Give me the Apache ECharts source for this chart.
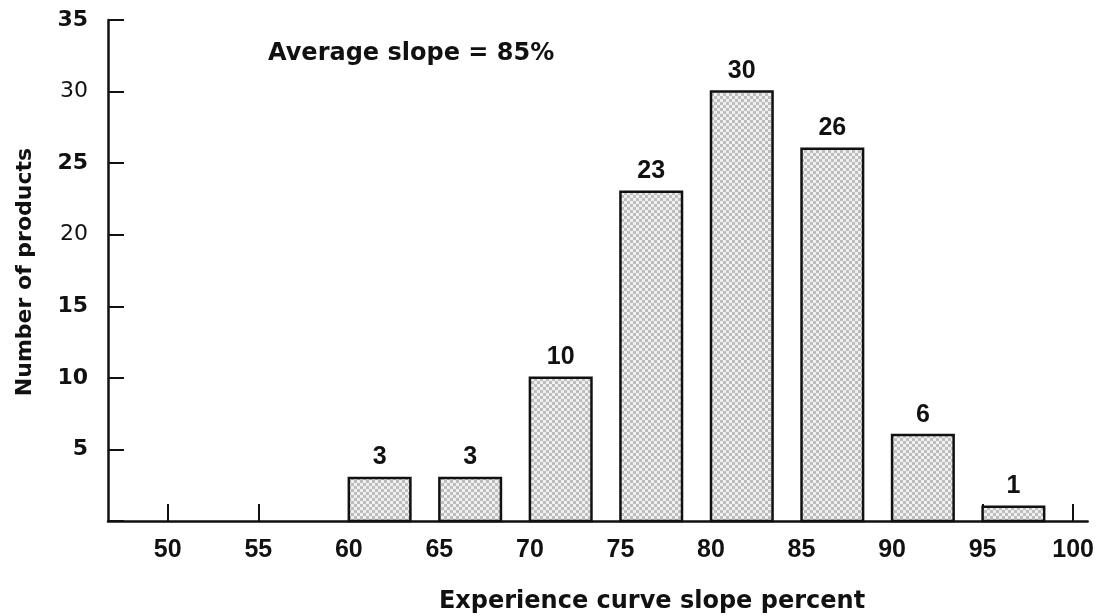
<!DOCTYPE html>
<html>
<head>
<meta charset="utf-8">
<script src="https://cdn.jsdelivr.net/npm/echarts@6/dist/echarts.min.js"></script>
<style>html,body{margin:0;padding:0;background:#fff;}#c{width:1097px;height:616px;}</style>
</head>
<body>
<div id="c"></div>
<script>
const binStarts = [50, 55, 60, 65, 70, 75, 80, 85, 90, 95];
const counts = [0, 0, 3, 3, 10, 23, 30, 26, 6, 1];
const xTickValues = [50, 55, 60, 65, 70, 75, 80, 85, 90, 95, 100];
const yTickMax = 35;
const yTickStep = 5;
const annotation = 'Average slope = 85%';
const xTitle = 'Experience curve slope percent';
const yTitle = 'Number of products';

const BIN_W = 3.4;
const SANS = '"Liberation Sans", Arial, sans-serif';
const WIDE = '"DejaVu Sans", sans-serif';
const INK = '#111';

// stipple pattern for bar fill (checker of 3px cells)
const pat = document.createElement('canvas');
pat.width = 6; pat.height = 6;
const pctx = pat.getContext('2d');
pctx.fillStyle = '#f0f0f0'; pctx.fillRect(0, 0, 6, 6);
pctx.fillStyle = '#bdbdbd'; pctx.fillRect(0, 0, 3, 3); pctx.fillRect(3, 3, 3, 3);

const chart = echarts.init(document.getElementById('c'), null, {renderer: 'canvas'});
const data = binStarts.map((b, i) => [b, counts[i]]);

chart.setOption({
  animation: false,
  backgroundColor: '#fff',
  grid: {left: 108, right: 0, top: 20, bottom: 95, containLabel: false},
  xAxis: {
    type: 'value',
    min: 46.7,
    max: 100.8,
    axisLine: {show: true, onZero: false, lineStyle: {color: INK, width: 2.5}},
    axisTick: {show: true, inside: true, length: 17, customValues: xTickValues, lineStyle: {color: INK, width: 2}},
    axisLabel: {customValues: xTickValues, margin: 17, color: INK, fontSize: 25, fontWeight: 'bold', fontFamily: SANS},
    splitLine: {show: false}
  },
  yAxis: {
    type: 'value',
    min: 0,
    max: yTickMax,
    interval: yTickStep,
    axisLine: {show: true, lineStyle: {color: INK, width: 2.5}},
    axisTick: {show: true, inside: true, length: 16, lineStyle: {color: INK, width: 2}},
    axisLabel: {
      margin: 20, color: INK, fontSize: 22, fontFamily: WIDE,
      formatter: v => v === 0 ? '' : ((v === 30 || v === 20) ? '{n|' + v + '}' : '{b|' + v + '}'),
      rich: {
        b: {fontSize: 22, fontWeight: 'bold', fontFamily: WIDE, color: INK},
        n: {fontSize: 22, fontWeight: 'normal', fontFamily: WIDE, color: INK}
      }
    },
    splitLine: {show: false}
  },
  graphic: [
    {type: 'text', left: 268, top: 42, style: {text: annotation, font: 'bold 24px ' + WIDE, fill: INK}},
    {type: 'text', x: 652, y: 602, style: {text: xTitle, font: 'bold 24px ' + WIDE, fill: INK, align: 'center', verticalAlign: 'middle'}},
    {type: 'text', x: 25, y: 272, rotation: Math.PI / 2, style: {text: yTitle, font: 'bold 22px ' + WIDE, fill: INK, align: 'center', verticalAlign: 'middle'}}
  ],
  series: [{
    type: 'custom',
    data: data,
    encode: {x: 0, y: 1},
    renderItem: function (params, api) {
      const x0 = api.value(0), v = api.value(1);
      if (!v) return null;
      const p0 = api.coord([x0, 0]);
      const p1 = api.coord([x0 + BIN_W, v]);
      return {
        type: 'group',
        children: [
          {type: 'rect', shape: {x: p0[0], y: p1[1], width: p1[0] - p0[0], height: p0[1] - p1[1]},
            style: {fill: {image: pat, repeat: 'repeat'}, stroke: INK, lineWidth: 2.5}},
          {type: 'text', x: (p0[0] + p1[0]) / 2, y: p1[1] - 8,
            style: {text: String(v), align: 'center', verticalAlign: 'bottom', font: 'bold 25px ' + SANS, fill: INK}}
        ]
      };
    }
  }]
});
</script>
</body>
</html>
